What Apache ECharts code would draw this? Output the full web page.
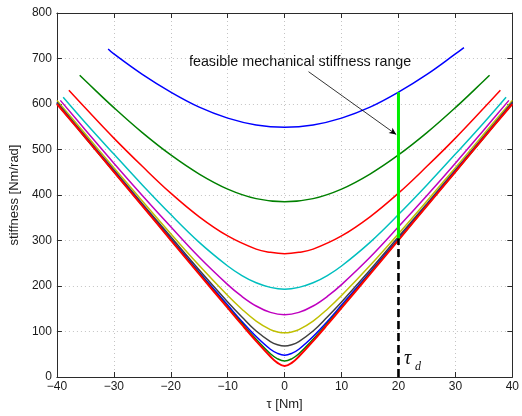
<!DOCTYPE html>
<html>
<head>
<meta charset="utf-8">
<script src="https://cdn.jsdelivr.net/npm/echarts@6/dist/echarts.min.js"></script>
<style>
  html, body { margin: 0; padding: 0; background: #fff; }
  #chart { width: 522px; height: 416px; }
</style>
</head>
<body>
<div id="chart"></div>
<script>
// Stiffness versus torque for a family of stiffness settings (top to bottom)
const tauBlueTop = [-31, -30, -25, -20, -15, -10, -5, 0, 5, 10, 15, 20, 25, 30, 31.5];
const kBlueTop   = [721, 710, 665, 626, 593, 569, 554, 549, 554, 569, 593, 626, 665, 710, 724];

const tauGreenTop = [-36, -35, -30, -25, -20, -15, -10, -5, 0, 5, 10, 15, 20, 25, 30, 35, 36];
const kGreenTop   = [663, 651, 592, 537, 488, 446, 413, 392, 385, 392, 413, 446, 488, 537, 592, 651, 663];

const tauRedTop = [-37.9, -35, -30, -25, -20, -15, -10, -5, -2.5, 0, 2.5, 5, 10, 15, 20, 25, 30, 35, 37.9];
const kRedTop   = [630, 591, 525, 463, 404, 352, 310, 281, 274, 271, 274, 281, 310, 352, 404, 463, 525, 591, 630];

const tauCyan = [-38.9, -35, -30, -25, -20, -15, -10, -7.5, -5, -2.5, 0, 2.5, 5, 7.5, 10, 15, 20, 25, 30, 35, 38.9];
const kCyan   = [615, 559, 490, 422, 357, 296, 244, 223, 207, 197, 193, 197, 207, 223, 244, 296, 357, 422, 490, 559, 615];

const tauMagenta = [-39.4, -35, -30, -25, -20, -15, -10, -7.5, -5, -2.5, 0, 2.5, 5, 7.5, 10, 15, 20, 25, 30, 35, 39.4];
const kMagenta   = [608, 543, 470, 399, 330, 263, 203, 177, 156, 142, 137, 142, 156, 177, 203, 263, 330, 399, 470, 543, 608];

const tauFull = [-40, -35, -30, -25, -20, -15, -10, -7.5, -5, -2.5, -1.25, 0, 1.25, 2.5, 5, 7.5, 10, 15, 20, 25, 30, 35, 40];
const kYellow = [608, 534, 460, 387, 315, 245, 179, 149, 123, 104, 99, 97, 99, 104, 123, 149, 179, 245, 315, 387, 460, 534, 608];
const kGray   = [604, 529, 455, 381, 308, 235, 165, 132, 101, 78, 71, 68, 71, 78, 101, 132, 165, 235, 308, 381, 455, 529, 604];
const kBlue   = [602, 527, 453, 378, 304, 230, 158, 122, 89, 61, 52, 48, 52, 61, 89, 122, 158, 230, 304, 378, 453, 527, 602];
const kGreen  = [601, 526, 451, 377, 302, 228, 154, 118, 83, 51, 40, 35, 40, 51, 83, 118, 154, 228, 302, 377, 451, 526, 601];
const kRed    = [600, 526, 451, 376, 301, 226, 152, 115, 79, 45, 31, 24, 31, 45, 79, 115, 152, 226, 301, 376, 451, 526, 600];

// Design torque and the stiffness range reachable there
const tauD = 20;
const feasibleRange = [305, 626];

// Annotation arrow end points [tau, stiffness]
const arrowFrom = [4.2, 671];
const arrowTo = [19.6, 533];

const xTicks = { min: -40, max: 40, step: 10 };
const yTicks = { min: 0, max: 800, step: 100 };

const FONT = 'Liberation Sans, Arial, Helvetica, sans-serif';
const AXIS_COLOR = '#2b2b2b';

function zip(xs, ys) { return xs.map((x, i) => [x, ys[i]]); }

const curves = [
  { x: tauBlueTop, y: kBlueTop, color: '#0000ff' },
  { x: tauGreenTop, y: kGreenTop, color: '#008000' },
  { x: tauRedTop, y: kRedTop, color: '#ff0000' },
  { x: tauCyan, y: kCyan, color: '#00bfbf' },
  { x: tauMagenta, y: kMagenta, color: '#bf00bf' },
  { x: tauFull, y: kYellow, color: '#bfbf00' },
  { x: tauFull, y: kGray, color: '#404040' },
  { x: tauFull, y: kBlue, color: '#0000ff' },
  { x: tauFull, y: kGreen, color: '#008000' },
  { x: tauFull, y: kRed, color: '#ff0000', width: 2 }
];

const series = curves.map(c => ({
  type: 'line',
  data: zip(c.x, c.y),
  xAxisIndex: 0, yAxisIndex: 0,
  showSymbol: false,
  smooth: 0.4,
  lineStyle: { color: c.color, width: c.width || 1.5 },
  silent: true,
  animation: false
}));

// Dashed marker from the axis up to the lower bound
series.push({
  type: 'line',
  data: [[tauD, 0], [tauD, feasibleRange[0]]],
  showSymbol: false,
  lineStyle: { color: '#000', width: 2.6, type: [8, 4] },
  silent: true, animation: false, z: 5
});

// Feasible stiffness bar at the design torque, with the annotation arrow
series.push({
  type: 'line',
  data: [[tauD, feasibleRange[0]], [tauD, feasibleRange[1]]],
  showSymbol: false,
  lineStyle: { color: '#00ee00', width: 3 },
  silent: true, animation: false, z: 6,
  markLine: {
    silent: true,
    animation: false,
    symbol: ['none', 'arrow'],
    symbolSize: [5, 7],
    label: { show: false },
    lineStyle: { color: '#000', width: 0.8, type: 'solid' },
    data: [[{ coord: arrowFrom }, { coord: arrowTo }]]
  }
});

const minusFmt = v => String(v).replace('-', '\u2212');

const gridLine = { show: true, lineStyle: { color: '#c4c4c4', type: [1, 3], width: 1 } };

const option = {
  backgroundColor: '#fff',
  animation: false,
  grid: { left: 51, right: 6, top: 13, bottom: 37, containLabel: false },
  xAxis: [
    {
      type: 'value', min: xTicks.min, max: xTicks.max, interval: xTicks.step,
      position: 'bottom',
      name: '\u03c4 [Nm]', nameLocation: 'middle', nameGap: 21,
      nameTextStyle: { fontFamily: FONT, fontSize: 13, color: '#1a1a1a' },
      axisLine: { show: true, onZero: false, lineStyle: { color: AXIS_COLOR, width: 1 } },
      axisTick: { show: true, inside: true, length: 5, lineStyle: { color: AXIS_COLOR } },
      axisLabel: { formatter: minusFmt, fontFamily: FONT, fontSize: 12, color: '#1a1a1a', margin: 4 },
      splitLine: gridLine
    },
    {
      type: 'value', min: xTicks.min, max: xTicks.max, interval: xTicks.step,
      position: 'top',
      axisLine: { show: true, onZero: false, lineStyle: { color: AXIS_COLOR, width: 1 } },
      axisTick: { show: true, inside: true, length: 5, lineStyle: { color: AXIS_COLOR } },
      axisLabel: { show: false },
      splitLine: { show: false }
    }
  ],
  yAxis: [
    {
      type: 'value', min: yTicks.min, max: yTicks.max, interval: yTicks.step,
      position: 'left',
      name: 'stiffness [Nm/rad]', nameLocation: 'middle', nameGap: 31, nameRotate: 90,
      nameTextStyle: { fontFamily: FONT, fontSize: 13, color: '#1a1a1a' },
      axisLine: { show: true, onZero: false, lineStyle: { color: AXIS_COLOR, width: 1 } },
      axisTick: { show: true, inside: true, length: 5, lineStyle: { color: AXIS_COLOR } },
      axisLabel: { fontFamily: FONT, fontSize: 12, color: '#1a1a1a', margin: 5 },
      splitLine: gridLine
    },
    {
      type: 'value', min: yTicks.min, max: yTicks.max, interval: yTicks.step,
      position: 'right',
      axisLine: { show: true, onZero: false, lineStyle: { color: AXIS_COLOR, width: 1 } },
      axisTick: { show: true, inside: true, length: 5, lineStyle: { color: AXIS_COLOR } },
      axisLabel: { show: false },
      splitLine: { show: false }
    }
  ],
  graphic: [
    {
      type: 'text', left: 189, top: 55, silent: true,
      style: { text: 'feasible mechanical stiffness range', fontFamily: FONT, fontSize: 14.3, fill: '#111' }
    },
    {
      type: 'text', left: 404, top: 349, silent: true,
      style: { text: '\u03c4', fontFamily: 'Liberation Serif, Times New Roman, serif', fontStyle: 'italic', fontSize: 20, fill: '#111' }
    },
    {
      type: 'text', left: 415, top: 361, silent: true,
      style: { text: 'd', fontFamily: 'Liberation Serif, Times New Roman, serif', fontStyle: 'italic', fontSize: 12, fill: '#111' }
    }
  ],
  series: series
};

const chart = echarts.init(document.getElementById('chart'), null, { renderer: 'canvas' });
chart.setOption(option);
</script>
</body>
</html>
